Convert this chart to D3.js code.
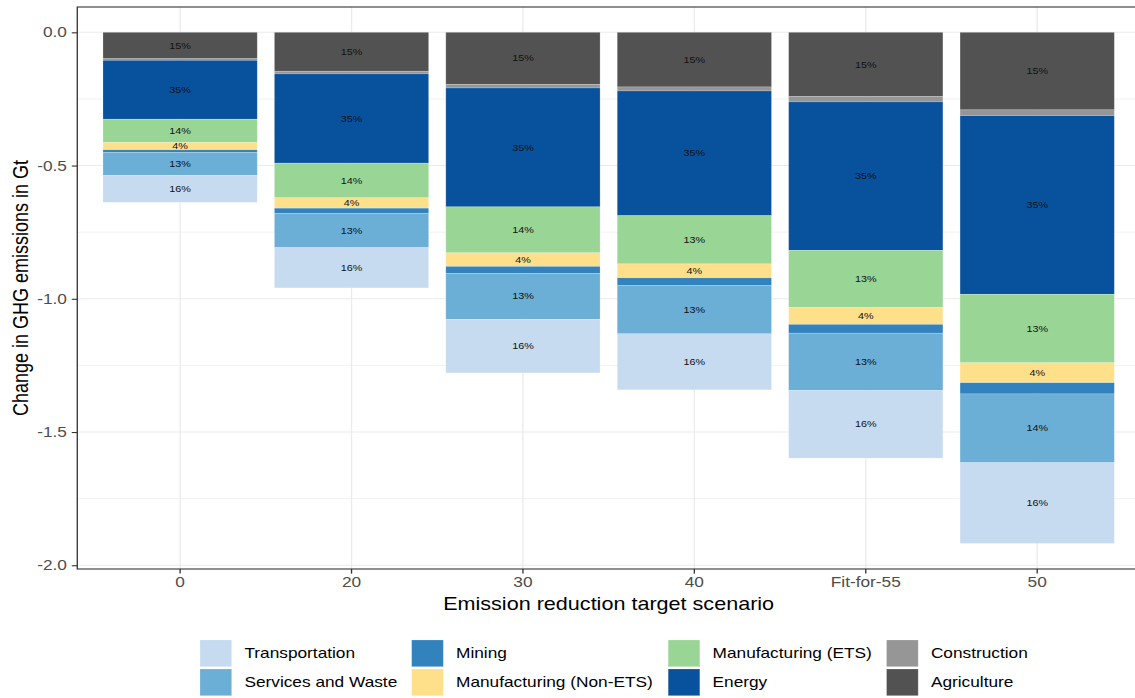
<!DOCTYPE html>
<html><head><meta charset="utf-8">
<script src="https://cdn.jsdelivr.net/npm/d3@7"></script>
<style>body{margin:0;background:#fff}svg{display:block}text{font-family:"Liberation Sans",Arial,Helvetica,sans-serif}</style>
</head><body>
<script>
// ---- data ----
const categories = ["0","20","30","40","Fit-for-55","50"];
const sectors = ["Agriculture","Construction","Energy","Manufacturing (ETS)","Manufacturing (Non-ETS)","Mining","Services and Waste","Transportation"];
const agriculture   = [-0.099,-0.146,-0.195,-0.205,-0.241,-0.291];
const construction  = [-0.006,-0.010,-0.014,-0.015,-0.020,-0.022];
const energy        = [-0.221,-0.335,-0.446,-0.468,-0.557,-0.670];
const manufETS      = [-0.0875,-0.130,-0.1725,-0.181,-0.215,-0.257];
const manufNonETS   = [-0.0275,-0.039,-0.051,-0.0525,-0.063,-0.075];
const mining        = [-0.010,-0.019,-0.026,-0.029,-0.033,-0.042];
const services      = [-0.086,-0.129,-0.1725,-0.181,-0.215,-0.258];
const transport     = [-0.101,-0.151,-0.201,-0.210,-0.254,-0.303];
const labelAgriculture = ["15%","15%","15%","15%","15%","15%"];
const labelEnergy      = ["35%","35%","35%","35%","35%","35%"];
const labelETS         = ["14%","14%","14%","13%","13%","13%"];
const labelNonETS      = ["4%","4%","4%","4%","4%","4%"];
const labelServices    = ["13%","13%","13%","13%","13%","14%"];
const labelTransport   = ["16%","16%","16%","16%","16%","16%"];
const yTicks = [0,-0.5,-1.0,-1.5,-2.0];
const yTickLabels = ["0.0","-0.5","-1.0","-1.5","-2.0"];
const yMinor = [-0.25,-0.75,-1.25,-1.75];
const legendOrder = ["Transportation","Services and Waste","Mining","Manufacturing (Non-ETS)","Manufacturing (ETS)","Energy","Construction","Agriculture"];

const seriesValues = {"Agriculture":agriculture,"Construction":construction,"Energy":energy,
  "Manufacturing (ETS)":manufETS,"Manufacturing (Non-ETS)":manufNonETS,"Mining":mining,
  "Services and Waste":services,"Transportation":transport};
const seriesLabels = {"Agriculture":labelAgriculture,"Energy":labelEnergy,"Manufacturing (ETS)":labelETS,
  "Manufacturing (Non-ETS)":labelNonETS,"Services and Waste":labelServices,"Transportation":labelTransport};
const colors = {"Transportation":"#c6dbef","Services and Waste":"#6baed6","Mining":"#3182bd",
  "Manufacturing (ETS)":"#99d594","Manufacturing (Non-ETS)":"#fee08b","Energy":"#08519c",
  "Construction":"#969696","Agriculture":"#525252"};

const table = categories.map((c,i)=>{const o={cat:c}; sectors.forEach(s=>o[s]=seriesValues[s][i]); return o;});

// ---- layout (drawn in unstretched space, then stretched horizontally) ----
const VW = 946, VH = 698;
const svg = d3.select("body").append("svg")
  .attr("width",1135).attr("height",698)
  .attr("viewBox",`0 0 ${VW} ${VH}`).attr("preserveAspectRatio","none");

const px0 = 64.4, px1 = 950.2, py0 = 7, py1 = 569;
const x = d3.scaleBand().domain(categories).range([px0,px1]).paddingInner(0.1).paddingOuter(0.15);
const y = d3.scaleLinear().domain([0.095,-2.014]).range([py0,py1]);

svg.append("rect").attr("x",px0).attr("y",py0).attr("width",px1-px0).attr("height",py1-py0).attr("fill","#fff");

const grid = svg.append("g");
grid.selectAll(".minor").data(yMinor).join("line")
  .attr("x1",px0).attr("x2",px1).attr("y1",d=>y(d)).attr("y2",d=>y(d))
  .attr("stroke","#ebebeb").attr("stroke-width",0.6);
grid.selectAll(".major").data(yTicks).join("line")
  .attr("x1",px0).attr("x2",px1).attr("y1",d=>y(d)).attr("y2",d=>y(d))
  .attr("stroke","#ebebeb").attr("stroke-width",1.1);
grid.selectAll(".vmaj").data(categories).join("line")
  .attr("x1",d=>x(d)+x.bandwidth()/2).attr("x2",d=>x(d)+x.bandwidth()/2).attr("y1",py0).attr("y2",py1)
  .attr("stroke","#ebebeb").attr("stroke-width",1.1);

const stack = d3.stack().keys(sectors).offset(d3.stackOffsetDiverging);
const layers = stack(table);

const bars = svg.append("g");
layers.forEach(layer=>{
  bars.append("g").selectAll("rect").data(layer).join("rect")
    .attr("x",d=>x(d.data.cat)).attr("width",x.bandwidth())
    .attr("y",d=>y(Math.max(d[0],d[1]))).attr("height",d=>Math.abs(y(d[0])-y(d[1])))
    .attr("fill",colors[layer.key]).attr("stroke","#ffffff").attr("stroke-opacity",0.3).attr("stroke-width",0.6);
});
layers.forEach(layer=>{
  const labs = seriesLabels[layer.key];
  if(!labs) return;
  bars.append("g").selectAll("text").data(layer).join("text")
    .attr("x",d=>x(d.data.cat)+x.bandwidth()/2).attr("y",d=>y((d[0]+d[1])/2))
    .attr("dy","0.35em").attr("text-anchor","middle").attr("font-size",9).attr("fill","#111")
    .text((d,i)=>labs[i]);
});

// border
svg.append("rect").attr("x",px0).attr("y",py0).attr("width",px1-px0).attr("height",py1-py0)
  .attr("fill","none").attr("stroke","#333").attr("stroke-width",1.1);

// axes
const yAxis = svg.append("g").attr("transform",`translate(${px0},0)`)
  .call(d3.axisLeft(y).tickValues(yTicks).tickFormat((d,i)=>yTickLabels[i]).tickSize(4.6).tickPadding(4));
yAxis.select(".domain").remove();
yAxis.selectAll(".tick line").attr("stroke","#333").attr("stroke-width",1.1);
yAxis.selectAll(".tick text").attr("font-size",14.4).attr("fill","#4d4d4d").attr("font-family",null);

const xAxis = svg.append("g").attr("transform",`translate(0,${py1})`)
  .call(d3.axisBottom(x).tickSize(4.6).tickPadding(3.5));
xAxis.select(".domain").remove();
xAxis.selectAll(".tick line").attr("stroke","#333").attr("stroke-width",1.1);
xAxis.selectAll(".tick text").attr("font-size",14.4).attr("fill","#4d4d4d").attr("font-family",null);

svg.append("text").attr("x",507.3).attr("y",604).attr("dy","0.35em")
  .attr("text-anchor","middle").attr("font-size",18).attr("fill","#000").text("Emission reduction target scenario");
svg.append("text").attr("transform",`translate(16.7,${(py0+py1)/2}) rotate(-90)`).attr("dy","0.35em")
  .attr("text-anchor","middle").attr("font-size",18).attr("fill","#000").text("Change in GHG emissions in Gt");

// legend (2 rows, filled by column)
const colX = [166.7,343.1,556.9,738.9];
const rowY = [640,669];
const keyW = 26.4, keyH = 26.7;
const lg = svg.append("g");
legendOrder.forEach((s,i)=>{
  const c = Math.floor(i/2), r = i%2;
  lg.append("rect").attr("x",colX[c]).attr("y",rowY[r]).attr("width",keyW).attr("height",keyH)
    .attr("fill",colors[s]).attr("stroke","#ffffff").attr("stroke-opacity",0.3).attr("stroke-width",0.6);
  lg.append("text").attr("x",colX[c]+keyW+10.6).attr("y",rowY[r]+keyH/2).attr("dy","0.35em")
    .attr("font-size",14.4).attr("fill","#000").text(s);
});
</script>
</body></html>
